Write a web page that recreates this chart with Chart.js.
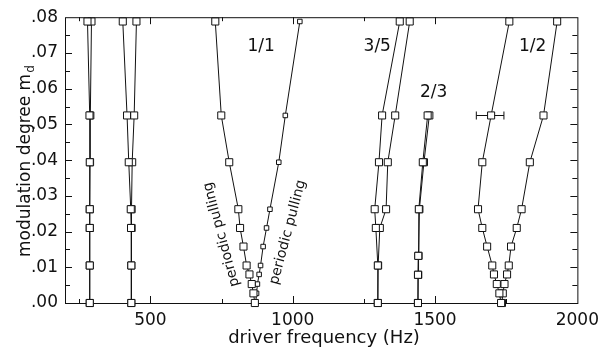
<!DOCTYPE html>
<html>
<head>
<meta charset="utf-8">
<script src="https://cdn.jsdelivr.net/npm/chart.js@4.4.0/dist/chart.umd.min.js"></script>
<style>
html, body { margin: 0; padding: 0; background: #fff; }
</style>
</head>
<body>
<canvas id="tongueChart" width="606" height="351"></canvas>
<script>
// modulation degree levels used by the measurements
var mdBase = [0, 0.0105, 0.021, 0.02625, 0.0394, 0.0525, 0.0788];
var mdFine = [0, 0.0027, 0.0053, 0.008, 0.0105, 0.0158, 0.021, 0.02625, 0.0394, 0.0525, 0.0788];
var md23 = [0, 0.0079, 0.0132, 0.02625, 0.0394, 0.0525];

// driver frequency (Hz) of each tongue border
var f280a = [287, 287, 287, 287, 287, 286, 279];
var f280b = [287, 287, 287, 287, 288, 289, 293];
var f430a = [433, 433, 432, 431, 424, 418, 403];
var f430b = [433, 433, 434, 434, 436, 443, 451];
var f11left = [867, 862, 856, 848, 838, 827, 815, 809, 777, 749, 728];
var f11right = [870, 873, 876, 882, 887, 896, 908, 920, 951, 974, 1025];
var f35left = [1299, 1299, 1292, 1288, 1303, 1314, 1376];
var f35right = [1299, 1300, 1306, 1328, 1334, 1360, 1411];
var f23left = [1440, 1440, 1441, 1443, 1457, 1474];
var f23right = [1440, 1441, 1442, 1445, 1461, 1480];
var f12left = [1732, 1726, 1717, 1707, 1701, 1683, 1666, 1651, 1666, 1697, 1761];
var f12right = [1735, 1738, 1744, 1753, 1759, 1767, 1787, 1804, 1833, 1881, 1929];

// error bar on the 1/2 tongue
var errMd = 0.0525;
var errLo = 1645;
var errHi = 1742;

var xTicks = [500, 1000, 1500, 2000];
var yTicks = [0, 0.01, 0.02, 0.03, 0.04, 0.05, 0.06, 0.07, 0.08];

var tongueLabels = [
	{ text: '1/1', x: 889, y: 0.0717 },
	{ text: '3/5', x: 1297, y: 0.0717 },
	{ text: '2/3', x: 1495, y: 0.0588 },
	{ text: '1/2', x: 1843, y: 0.0717 }
];
var pullLabels = [
	{ text: 'periodic pulling', x: 750, y: 0.0192, angle: -105 },
	{ text: 'periodic pulling', x: 983, y: 0.0198, angle: -75 }
];

var ink = '#111';
var fontFam = "'DejaVu Sans', sans-serif";

function pts(fs, ms) {
	return fs.map(function (f, i) { return { x: f, y: ms[i] }; });
}

function series(fs, ms, r) {
	return {
		data: pts(fs, ms),
		showLine: true,
		borderColor: ink,
		borderWidth: 1,
		pointStyle: 'rect',
		pointRadius: r || 5,
		pointBackgroundColor: '#fff',
		pointBorderColor: ink,
		pointBorderWidth: 1,
		clip: false
	};
}

var framePlugin = {
	id: 'frame',
	beforeDatasetsDraw: function (chart) {
		var ctx = chart.ctx, a = chart.chartArea;
		var xs = chart.scales.x, ys = chart.scales.y;
		ctx.save();
		ctx.strokeStyle = ink;
		ctx.lineWidth = 1;
		ctx.strokeRect(a.left + 0.5, a.top + 0.5, a.right - a.left, a.bottom - a.top);
		ctx.beginPath();
		for (var f = 250; f < 2000; f += 250) {
			var px = Math.round(xs.getPixelForValue(f)) + 0.5;
			var len = (f % 500 === 0) ? 7 : 4;
			ctx.moveTo(px, a.bottom); ctx.lineTo(px, a.bottom - len);
			ctx.moveTo(px, a.top); ctx.lineTo(px, a.top + len);
		}
		for (var k = 1; k < 16; k++) {
			var py = Math.round(ys.getPixelForValue(k * 0.005)) + 0.5;
			var l2 = (k % 2 === 0) ? 7 : 5;
			ctx.moveTo(a.left, py); ctx.lineTo(a.left + l2, py);
			ctx.moveTo(a.right, py); ctx.lineTo(a.right - l2, py);
		}
		ctx.stroke();
		// error bar
		var ey = Math.round(ys.getPixelForValue(errMd)) + 0.5;
		var e1 = xs.getPixelForValue(errLo), e2 = xs.getPixelForValue(errHi);
		ctx.beginPath();
		ctx.moveTo(e1, ey); ctx.lineTo(e2, ey);
		ctx.moveTo(e1, ey - 4); ctx.lineTo(e1, ey + 4);
		ctx.moveTo(e2, ey - 4); ctx.lineTo(e2, ey + 4);
		ctx.stroke();
		ctx.restore();
	},
	afterDatasetsDraw: function (chart) {
		var ctx = chart.ctx;
		var xs = chart.scales.x, ys = chart.scales.y;
		ctx.save();
		ctx.fillStyle = ink;
		ctx.textAlign = 'center';
		ctx.textBaseline = 'middle';
		ctx.font = '17px ' + fontFam;
		tongueLabels.forEach(function (t) {
			ctx.fillText(t.text, xs.getPixelForValue(t.x), ys.getPixelForValue(t.y));
		});
		ctx.font = '14px ' + fontFam;
		pullLabels.forEach(function (t) {
			ctx.save();
			ctx.translate(xs.getPixelForValue(t.x), ys.getPixelForValue(t.y));
			ctx.rotate(t.angle * Math.PI / 180);
			ctx.fillText(t.text, 0, 0);
			ctx.restore();
		});
		// axis titles
		ctx.font = '18px ' + fontFam;
		ctx.textBaseline = 'alphabetic';
		ctx.fillText('driver frequency (Hz)', 324, 343);
		ctx.save();
		ctx.translate(30, 257);
		ctx.rotate(-Math.PI / 2);
		ctx.textAlign = 'left';
		ctx.font = '17px ' + fontFam;
		var main = 'modulation degree m';
		ctx.fillText(main, 0, 0);
		var w = ctx.measureText(main).width;
		ctx.font = '12px ' + fontFam;
		ctx.fillText('d', w + 1, 4);
		ctx.restore();
		ctx.restore();
	}
};

var ctx = document.getElementById('tongueChart').getContext('2d');
var tongueChart = new Chart(ctx, {
	type: 'scatter',
	data: {
		datasets: [
			series(f280a, mdBase),
			series(f280b, mdBase),
			series(f430a, mdBase),
			series(f430b, mdBase),
			series(f11left, mdFine),
			series(f11right, mdFine, 3.2),
			series(f35left, mdBase),
			series(f35right, mdBase),
			series(f23left, md23),
			series(f23right, md23),
			series(f12left, mdFine),
			series(f12right, mdFine)
		]
	},
	options: {
		responsive: false,
		animation: false,
		layout: { padding: { left: 0, right: 24, top: 13, bottom: 0 }, autoPadding: false },
		plugins: { legend: { display: false }, tooltip: { enabled: false } },
		scales: {
			x: {
				type: 'linear',
				min: 200,
				max: 2000,
				afterBuildTicks: function (s) { s.ticks = xTicks.map(function (v) { return { value: v }; }); },
				afterFit: function (s) { s.height = 48; },
				grid: { display: false, drawTicks: false },
				border: { display: false },
				ticks: {
					color: ink, padding: 7, maxRotation: 0, autoSkip: false, font: { family: fontFam, size: 17 },
					callback: function (v) { return String(v); }
				}
			},
			y: {
				type: 'linear',
				min: 0,
				max: 0.08,
				afterBuildTicks: function (s) { s.ticks = yTicks.map(function (v) { return { value: v }; }); },
				afterFit: function (s) { s.width = 65; },
				grid: { display: false, drawTicks: false },
				border: { display: false },
				ticks: {
					color: ink, padding: 7, autoSkip: false, font: { family: fontFam, size: 17 },
					callback: function (v) { return v.toFixed(2).replace(/^0/, ''); }
				}
			}
		}
	},
	plugins: [framePlugin]
});
</script>
</body>
</html>
